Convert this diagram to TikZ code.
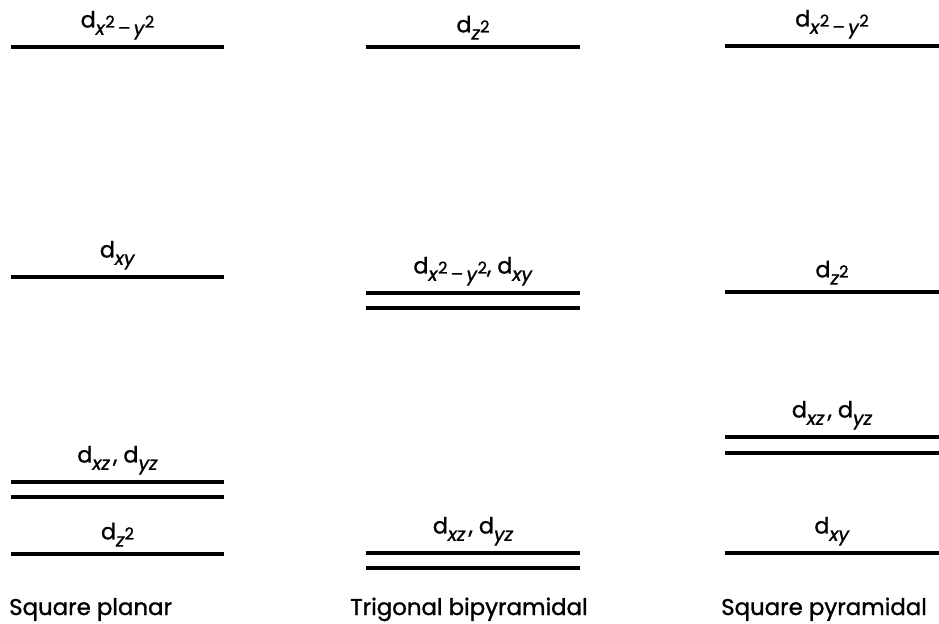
\documentclass[tikz,border=0pt]{standalone}
\usepackage{fontspec}
\setmainfont{Poppins}[FakeBold=1.2]
\usetikzlibrary{positioning}
% orbital label: d with a lowered subscript
\newcommand{\dorb}[1]{d\raisebox{-0.6ex}{\fontsize{16}{18}\selectfont#1}}
\newcommand{\sqd}{\raisebox{0.7ex}{\fontsize{14}{16}\selectfont 2}}

\begin{document}
\begin{tikzpicture}[
  x=0.03cm, y=-0.03cm,
  level/.style={line width=2.6pt},
  lbl/.style={above=5pt, inner sep=0pt, font=\fontsize{19}{22}\selectfont},
  geom/.style={inner sep=0pt, font=\fontsize{19.5}{23}\selectfont}
]
\useasboundingbox (0,0) rectangle (939,624);

% Square planar
\draw[level] (11,47) -- node[lbl] (sp-x2y2) {\dorb{\textit{x}\sqd\,–\,\textit{y}\sqd}} (224,47);
\draw[level] (11,277) -- node[lbl] (sp-xy) {\dorb{\textit{xy}}} (224,277);
\draw[level] (11,482) -- node[lbl] (sp-xzyz) {\dorb{\textit{xz}\,}, \dorb{\textit{yz}}} (224,482);
\draw[level] (11,497) -- (224,497);
\draw[level] (11,554) -- node[lbl] (sp-z2) {\dorb{\textit{z}\sqd}} (224,554);
\node[geom, anchor=base west] (sp-name) at (9,615) {Square planar};

% Trigonal bipyramidal
\draw[level] (366,47) -- node[lbl] (tb-z2) {\dorb{\textit{z}\sqd}} (580,47);
\draw[level] (366,293) -- node[lbl] (tb-x2y2xy) {\dorb{\textit{x}\sqd\,–\,\textit{y}\sqd}, \dorb{\textit{xy}}} (580,293);
\draw[level] (366,308) -- (580,308);
\draw[level] (366,553) -- node[lbl] (tb-xzyz) {\dorb{\textit{xz}\,}, \dorb{\textit{yz}}} (580,553);
\draw[level] (366,568) -- (580,568);
\node[geom, anchor=base] (tb-name) at (469,615) {Trigonal bipyramidal};

% Square pyramidal
\draw[level] (725,46) -- node[lbl] (spy-x2y2) {\dorb{\textit{x}\sqd\,–\,\textit{y}\sqd}} (939,46);
\draw[level] (725,292) -- node[lbl] (spy-z2) {\dorb{\textit{z}\sqd}} (939,292);
\draw[level] (725,437) -- node[lbl] (spy-xzyz) {\dorb{\textit{xz}\,}, \dorb{\textit{yz}}} (939,437);
\draw[level] (725,453) -- (939,453);
\draw[level] (725,553) -- node[lbl] (spy-xy) {\dorb{\textit{xy}}} (939,553);
\node[geom, anchor=base west] (spy-name) at (721,615) {Square pyramidal};
\end{tikzpicture}
\end{document}
